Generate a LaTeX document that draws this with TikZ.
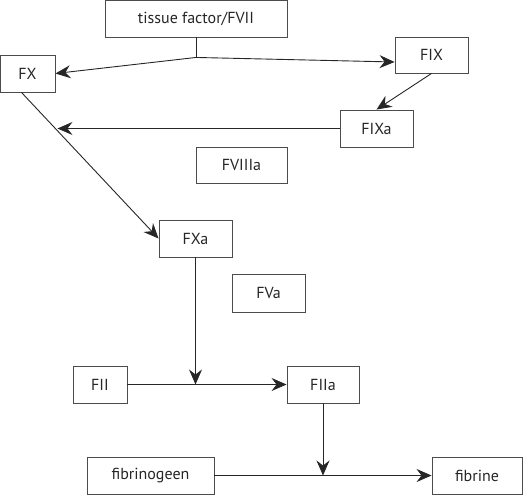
\documentclass[tikz,border=0pt]{standalone}
\usepackage{fontspec}
\setmainfont{PT Sans}
\usetikzlibrary{arrows.meta}

\tikzset{
  factor/.style={draw=black!70, line width=0.9pt, minimum height=37pt, inner sep=0pt,
    font=\fontsize{16}{19}\selectfont, text=black!85},
  conv/.style={draw=black!85, line width=0.9pt},
  tip/.style={-{Stealth[length=15pt, width=13pt, inset=5pt]}}
}

\begin{document}
\begin{tikzpicture}[x=1pt, y=-1pt]
\useasboundingbox (0,0) rectangle (529,495);

% factors
\node [factor, minimum width=182pt] (tf) at (196,18.5) {tissue factor/FVII};
\node [factor, minimum width=55pt] (fx) at (27.5,73.5) {FX};
\node [factor, minimum width=73pt, minimum height=36pt] (fix) at (431.5,55) {FIX};
\node [factor, minimum width=73pt] (fixa) at (376.5,128.5) {FIXa};
\node [factor, minimum width=91pt, minimum height=36pt] (fviiia) at (241.5,165) {FVIIIa};
\node [factor, minimum width=73pt] (fxa) at (195.5,238.5) {FXa};
\node [factor, minimum width=73pt, minimum height=38pt] (fva) at (268.5,293) {FVa};
\node [factor, minimum width=54pt] (fii) at (100,384.5) {FII};
\node [factor, minimum width=72pt] (fiia) at (323,384.5) {FIIa};
\node [factor, minimum width=127pt] (fgen) at (150.5,475.5) {fibrinogeen};
\node [factor, minimum width=90pt] (fbr) at (477,475.5) {fibrine};

% junctions
\coordinate (tfj) at ([yshift=-20pt]tf.south);
\coordinate (fxaj) at (fxa.south |- fii.east);
\coordinate (fiiaj) at (fiia.south |- fgen.east);

% connectors
\draw [conv] (tf.south) -- (tfj);
\draw [conv, tip] (tfj) -- (fx.east);
\draw [conv, tip] (tfj) -- ([yshift=-7pt]fix.west);
\draw [conv, tip] (fix.south) -- (fixa.north);
\draw [conv, tip] (fixa.west) -- ([xshift=2pt]fx.east |- fixa.west);
\draw [conv, tip] ([xshift=-6pt]fx.south) -- (fxa.west);
\draw [conv, tip] (fxa.south) -- (fxaj);
\draw [conv, tip] (fii.east) -- (fiia.west);
\draw [conv, tip] (fiia.south) -- (fiiaj);
\draw [conv, tip] (fgen.east) -- (fbr.west);
\end{tikzpicture}
\end{document}
